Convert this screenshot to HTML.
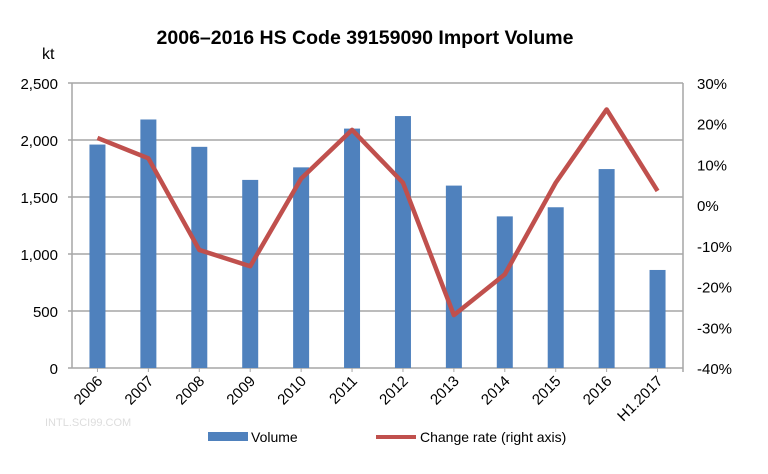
<!DOCTYPE html>
<html><head><meta charset="utf-8"><style>
body{margin:0;background:#fff;font-family:"Liberation Sans",sans-serif}
svg text{font-family:"Liberation Sans","Noto Sans CJK SC",sans-serif}
</style></head><body>
<svg id="c" width="768" height="469">
<text x="365" y="44" text-anchor="middle" font-size="19.5" font-weight="bold">2006–2016 HS Code 39159090 Import Volume</text>
<text x="42" y="59" font-size="16">kt</text>
<g id="grid"></g><g id="bars"></g><g id="line"></g><g id="axes"></g>
<g>
<rect x="208" y="432" width="40" height="9" fill="#4F81BD"/>
<text x="251" y="442" font-size="14">Volume</text>
<line x1="376" y1="437" x2="416" y2="437" stroke="#C0504D" stroke-width="4"/>
<text x="420" y="442" font-size="14">Change rate (right axis)</text>
</g>
<text x="45" y="426" font-size="11" fill="#ddd">INTL.SCI99.COM</text>
</svg>
<script>
const categories=["2006","2007","2008","2009","2010","2011","2012","2013","2014","2015","2016","H1.2017"];
const volume=[1960,2180,1940,1650,1760,2100,2210,1600,1330,1410,1745,860];
const changeRate=[16.5,11.5,-11,-15,6.5,18.5,5.5,-27,-17,5.5,23.5,3.5];
const leftTicks=[0,500,1000,1500,2000,2500];
const leftTickLabels=["0","500","1,000","1,500","2,000","2,500"];
const rightTicks=[-40,-30,-20,-10,0,10,20,30];
const NS="http://www.w3.org/2000/svg";
const L=72,R=683,T=83,B=368;
const yL=v=>B-(v/2500)*(B-T);
const yR=v=>B-((v+40)/70)*(B-T);
const bw=(R-L)/categories.length;
const xC=i=>L+bw*(i+0.5);
function mk(tag,attrs,parent){const e=document.createElementNS(NS,tag);for(const k in attrs)e.setAttribute(k,attrs[k]);document.getElementById(parent).appendChild(e);return e;}
leftTicks.forEach((t,i)=>{
 const g=mk("line",{x1:L-4,x2:R,y1:yL(t),y2:yL(t),stroke:"#A6A6A6","stroke-width":1.5},"grid");
 
 
 const tx=mk("text",{x:L-14,y:yL(t)+6,"text-anchor":"end","font-size":15},"axes");
 tx.textContent=leftTickLabels[i];
 
 
});
rightTicks.forEach(t=>{
 const tx=mk("text",{x:697,y:yR(t)+6,"font-size":15},"axes");
 tx.textContent=t+"%";
 
 
});
let ax=mk("line",{x1:L,x2:L,y1:T,y2:B,stroke:"#A6A6A6","stroke-width":1.5},"axes");


ax=mk("line",{x1:R,x2:R,y1:T,y2:B+4,stroke:"#A6A6A6","stroke-width":1.5},"axes");


categories.forEach((c,i)=>{
 const b=mk("rect",{x:xC(i)-8,y:yL(volume[i]),width:16,height:B-yL(volume[i]),fill:"#4F81BD"},"bars");
 
 
 const tk=mk("line",{x1:xC(i),x2:xC(i),y1:B,y2:B+4,stroke:"#A6A6A6"},"axes");
 
 
 const tx=mk("text",{x:xC(i)+6,y:B+14,"text-anchor":"end","font-size":15,transform:`rotate(-45 ${xC(i)+6} ${B+14})`},"axes");
 tx.textContent=c;
 
 
});
const p=mk("polyline",{points:changeRate.map((v,i)=>xC(i)+","+yR(v)).join(" "),fill:"none",stroke:"#C0504D","stroke-width":4.5,"stroke-linejoin":"round"},"line");


</script>
</body></html>
